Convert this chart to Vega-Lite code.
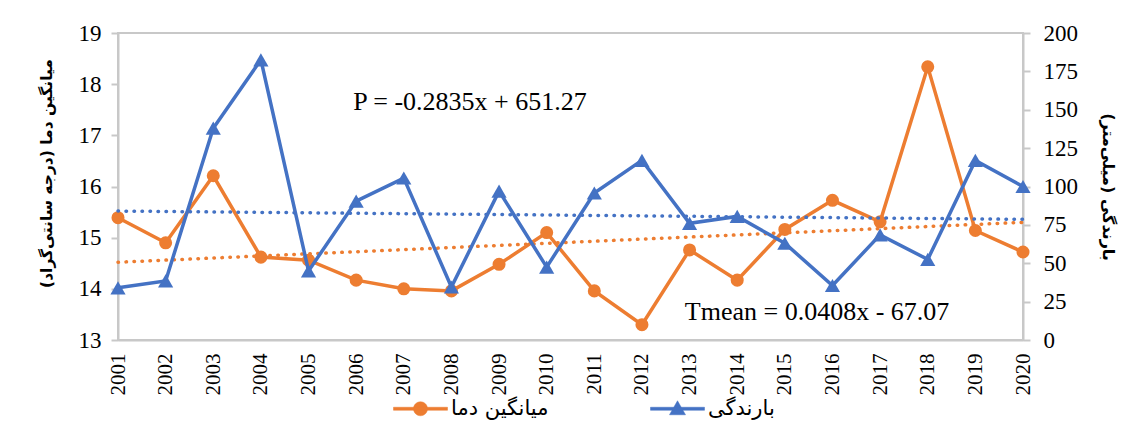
{
  "$schema": "https://vega.github.io/schema/vega-lite/v6.json",
  "width": 905,
  "height": 307,
  "autosize": {"type": "none"},
  "padding": {"left": 118, "top": 33, "right": 108, "bottom": 83},
  "background": "white",
  "datasets": {
    "main": [
      {"year": 2001, "temp": 15.39, "precip": 34},
      {"year": 2002, "temp": 14.9, "precip": 38.5},
      {"year": 2003, "temp": 16.21, "precip": 138},
      {"year": 2004, "temp": 14.62, "precip": 182.5},
      {"year": 2005, "temp": 14.56, "precip": 45},
      {"year": 2006, "temp": 14.17, "precip": 90.5},
      {"year": 2007, "temp": 14.0, "precip": 105.5},
      {"year": 2008, "temp": 13.96, "precip": 34.5},
      {"year": 2009, "temp": 14.48, "precip": 97},
      {"year": 2010, "temp": 15.1, "precip": 47.5},
      {"year": 2011, "temp": 13.96, "precip": 95.8},
      {"year": 2012, "temp": 13.3, "precip": 117},
      {"year": 2013, "temp": 14.76, "precip": 76},
      {"year": 2014, "temp": 14.17, "precip": 80.5},
      {"year": 2015, "temp": 15.16, "precip": 63},
      {"year": 2016, "temp": 15.73, "precip": 35.5},
      {"year": 2017, "temp": 15.31, "precip": 68.5},
      {"year": 2018, "temp": 18.34, "precip": 52.5},
      {"year": 2019, "temp": 15.14, "precip": 117},
      {"year": 2020, "temp": 14.72, "precip": 100}
    ],
    "trend": [
      {"year": 2001, "ttrend": 14.52, "ptrend": 84.0},
      {"year": 2020, "ttrend": 15.30, "ptrend": 78.6}
    ],
    "labels": [
      {"year": 2005.94, "val": 17.65, "txt": "P = -0.2835x + 651.27"},
      {"year": 2012.9, "val": 13.55, "txt": "Tmean = 0.0408x - 67.07"}
    ]
  },
  "config": {
    "view": {"stroke": "#c8c8c8", "strokeWidth": 2},
    "axis": {
      "labelFont": "Liberation Serif",
      "labelColor": "#000000",
      "domainColor": "#c8c8c8",
      "domainWidth": 2,
      "tickColor": "#c8c8c8",
      "tickWidth": 2,
      "grid": false,
      "titleFont": "DejaVu Sans",
      "titleFontWeight": "bold",
      "titleColor": "#000000"
    }
  },
  "layer": [
    {
      "layer": [
        {
          "data": {"name": "trend"},
          "mark": {"type": "line", "color": "#ED7D31", "strokeWidth": 3.5, "strokeDash": [0.5, 7.5], "strokeCap": "round"},
          "encoding": {
            "x": {"field": "year", "type": "quantitative"},
            "y": {"field": "ttrend", "type": "quantitative", "title": "میانگین دما (درجه سانتی‌گراد)"}
          }
        },
        {
          "data": {"name": "main"},
          "mark": {"type": "line", "strokeWidth": 3.5},
          "encoding": {
            "x": {"field": "year", "type": "quantitative"},
            "y": {"field": "temp", "type": "quantitative", "title": "میانگین دما (درجه سانتی‌گراد)"},
            "color": {"datum": "میانگین دما"}
          }
        },
        {
          "data": {"name": "main"},
          "mark": {"type": "point", "shape": "circle", "filled": true, "opacity": 1, "size": 170, "color": "#ED7D31"},
          "encoding": {
            "x": {"field": "year", "type": "quantitative"},
            "y": {"field": "temp", "type": "quantitative", "title": "میانگین دما (درجه سانتی‌گراد)"}
          }
        },
        {
          "data": {"name": "labels"},
          "mark": {"type": "text", "align": "left", "baseline": "middle", "font": "Liberation Serif", "fontSize": 26, "color": "#000000"},
          "encoding": {
            "x": {"field": "year", "type": "quantitative"},
            "y": {"field": "val", "type": "quantitative", "title": "میانگین دما (درجه سانتی‌گراد)"},
            "text": {"field": "txt"}
          }
        }
      ],
      "encoding": {
        "x": {
          "type": "quantitative",
          "scale": {"domain": [2001, 2020], "nice": false, "zero": false},
          "axis": {
            "title": null,
            "values": [2001,2002,2003,2004,2005,2006,2007,2008,2009,2010,2011,2012,2013,2014,2015,2016,2017,2018,2019,2020],
            "format": "d",
            "labelAngle": 270,
            "labelAlign": "right",
            "labelBaseline": "middle",
            "labelFontSize": 21,
            "ticks": false,
            "labelPadding": 13,
            "labelOverlap": false,
            "labelBound": false,
            "labelFlush": false
          }
        },
        "y": {
          "type": "quantitative",
          "scale": {"domain": [13, 19], "nice": false, "zero": false},
          "axis": {
            "values": [13,14,15,16,17,18,19],
            "labelFontSize": 23,
            "tickSize": 7,
            "labelPadding": 10,
            "titleFontSize": 15.5,
            "titlePadding": 24,
            "titleY": 140,
            "labelFlush": false,
            "labelOverlap": false
          }
        }
      }
    },
    {
      "layer": [
        {
          "data": {"name": "trend"},
          "mark": {"type": "line", "color": "#4472C4", "strokeWidth": 3.5, "strokeDash": [0.5, 7.5], "strokeCap": "round"},
          "encoding": {
            "x": {"field": "year", "type": "quantitative"},
            "y": {"field": "ptrend", "type": "quantitative", "title": "بارندگی (میلی‌متر)"}
          }
        },
        {
          "data": {"name": "main"},
          "mark": {"type": "line", "strokeWidth": 3.5},
          "encoding": {
            "x": {"field": "year", "type": "quantitative"},
            "y": {"field": "precip", "type": "quantitative", "title": "بارندگی (میلی‌متر)"},
            "color": {"datum": "بارندگی"}
          }
        },
        {
          "data": {"name": "main"},
          "mark": {"type": "point", "shape": "triangle-up", "filled": true, "opacity": 1, "size": 230, "color": "#4472C4"},
          "encoding": {
            "x": {"field": "year", "type": "quantitative"},
            "y": {"field": "precip", "type": "quantitative", "title": "بارندگی (میلی‌متر)"}
          }
        }
      ],
      "encoding": {
        "x": {"type": "quantitative", "scale": {"domain": [2001, 2020], "nice": false, "zero": false}},
        "y": {
          "type": "quantitative",
          "scale": {"domain": [0, 200], "nice": false, "zero": false},
          "axis": {
            "orient": "right",
            "values": [0,25,50,75,100,125,150,175,200],
            "labelFontSize": 23,
            "tickSize": 7,
            "labelPadding": 13,
            "titleFontSize": 16,
            "titlePadding": 22,
            "labelFlush": false,
            "labelOverlap": false
          }
        }
      }
    }
  ],
  "encoding": {
    "color": {
      "type": "nominal",
      "scale": {"domain": ["میانگین دما", "بارندگی"], "range": ["#ED7D31", "#4472C4"]},
      "legend": {
        "orient": "none",
        "legendX": 292,
        "legendY": 365,
        "direction": "horizontal",
        "columns": 2,
        "title": null,
        "symbolSize": 400,
        "labelFont": "DejaVu Sans",
        "labelFontSize": 21,
        "labelColor": "#000000",
        "labelOffset": 20,
        "columnPadding": 100,
        "labelLimit": 300,
        "encode": {
          "symbols": {
            "update": {
              "shape": {"signal": "datum.value === 'بارندگی' ? 'M-2.7,-0.15H2.7V0.15H-2.7Z M0,-0.8L0.8,0.6H-0.8Z' : 'M-2.7,-0.15H2.7V0.15H-2.7Z M0.7,0A0.7,0.7,0,1,1,-0.7,0A0.7,0.7,0,1,1,0.7,0Z'"},
              "fill": {"signal": "datum.value === 'بارندگی' ? '#4472C4' : '#ED7D31'"},
              "stroke": {"signal": "datum.value === 'بارندگی' ? '#4472C4' : '#ED7D31'"},
              "strokeWidth": {"value": 0.5},
              "opacity": {"value": 1},
              "fillOpacity": {"value": 1},
              "strokeOpacity": {"value": 1}
            }
          }
        }
      }
    }
  },
  "resolve": {"scale": {"y": "independent"}}
}
